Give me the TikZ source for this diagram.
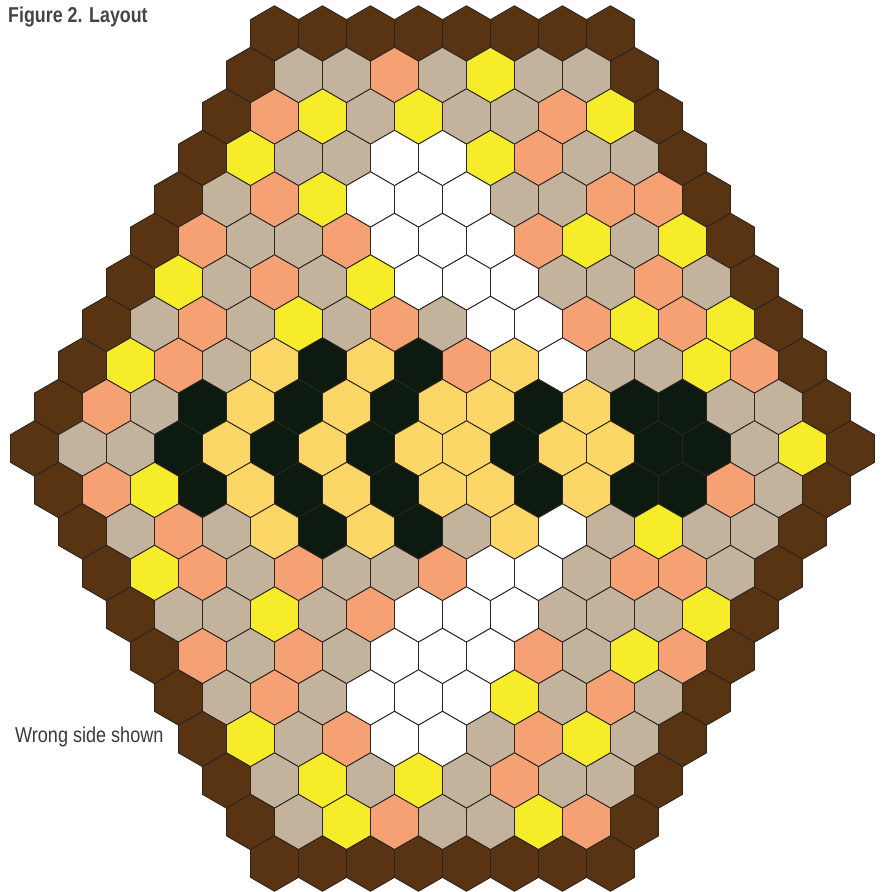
\documentclass[tikz,border=0pt]{standalone}
\usepackage{fontspec}
\usepackage{xcolor}
\usepackage{tikz}
\usetikzlibrary{calc}
\newfontfamily\titlefont[FakeStretch=0.83]{Liberation Sans}
\newfontfamily\notefont[FakeStretch=0.84]{Liberation Sans}
\definecolor{quiltB}{HTML}{583413}
\definecolor{quiltT}{HTML}{C4B39C}
\definecolor{quiltS}{HTML}{F5A174}
\definecolor{quiltY}{HTML}{F6EC2A}
\definecolor{quiltG}{HTML}{FCD666}
\definecolor{quiltD}{HTML}{0C1A0F}
\definecolor{quiltW}{HTML}{FFFFFF}
\definecolor{quiltline}{HTML}{2B2522}
\definecolor{quilttext}{HTML}{444444}
\tikzset{
  hexcell/.style={draw=quiltline, line width=0.9pt, line join=miter},
  caption/.style={font=\titlefont\bfseries\fontsize{21.5}{24}\selectfont,
                  text=quilttext, inner sep=0pt, anchor=base west},
  note/.style={font=\notefont\fontsize{21.5}{24}\selectfont,
               text=quilttext!85!black, inner sep=0pt, anchor=base west},
}

\begin{document}
\begin{tikzpicture}[x=1pt, y=-1pt]
  \useasboundingbox (0,0) rectangle (883,892);
  % rows of hexagons, top to bottom
  \foreach \r/\cells in {
      0/{B,B,B,B,B,B,B,B},
      1/{B,T,T,S,T,Y,T,T,B},
      2/{B,S,Y,T,Y,T,T,S,Y,B},
      3/{B,Y,T,T,W,W,Y,S,T,T,B},
      4/{B,T,S,Y,W,W,W,T,T,S,S,B},
      5/{B,S,T,T,S,W,W,W,S,Y,T,Y,B},
      6/{B,Y,T,S,T,Y,W,W,W,T,T,S,T,B},
      7/{B,T,S,T,Y,T,S,T,W,W,S,Y,S,Y,B},
      8/{B,Y,S,T,G,D,G,D,S,G,W,T,T,Y,S,B},
      9/{B,S,T,D,G,D,G,D,G,G,D,G,D,D,T,T,B},
      10/{B,T,T,D,G,D,G,D,G,G,D,G,G,D,D,T,Y,B},
      11/{B,S,Y,D,G,D,G,D,G,G,D,G,D,D,S,T,B},
      12/{B,T,S,T,G,D,G,D,T,G,W,T,Y,T,T,B},
      13/{B,Y,S,T,S,T,T,S,W,W,T,S,S,T,B},
      14/{B,T,T,Y,T,S,W,W,W,T,T,T,Y,B},
      15/{B,S,T,S,T,W,W,W,S,T,Y,S,B},
      16/{B,T,S,T,W,W,W,Y,T,S,T,B},
      17/{B,Y,T,S,W,W,T,S,Y,T,B},
      18/{B,T,Y,T,Y,T,S,T,T,B},
      19/{B,T,Y,S,T,T,Y,S,B},
      20/{B,B,B,B,B,B,B,B}} {
    \pgfmathtruncatemacro\n{8+min(\r,20-\r)}
    \foreach \c [count=\i from 0] in \cells {
      \pgfmathsetmacro\hx{442.5+(\i-(\n-1)/2)*48}
      \pgfmathsetmacro\hy{33.5+\r*41.5}
      \filldraw[hexcell, fill=quilt\c] (\hx,\hy)
        +(90:27.71pt) -- +(150:27.71pt) -- +(210:27.71pt)
        -- +(270:27.71pt) -- +(330:27.71pt) -- +(30:27.71pt) -- cycle;
    }
  }
  \node[caption] (title) at (8,22.4) {Figure 2. Layout};
  \node[note] (side) at (15,742.3) {Wrong side shown};
\end{tikzpicture}
\end{document}
